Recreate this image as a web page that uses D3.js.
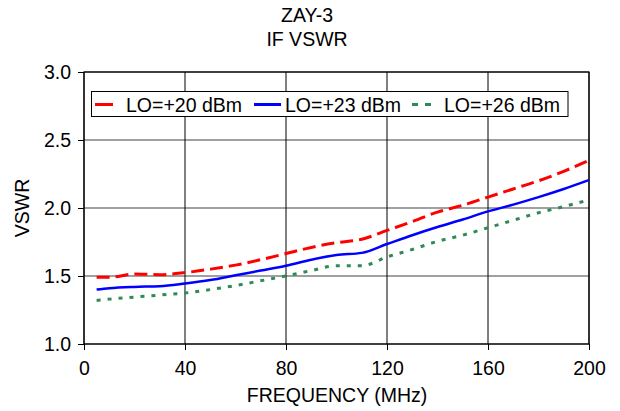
<!DOCTYPE html>
<meta charset="utf-8">
<style>
body { margin: 0; background: #fff; }
text { font-family: Arial, "Liberation Sans", sans-serif; fill: #000; }
</style>
<body>
<script src="https://cdn.jsdelivr.net/npm/d3@7/dist/d3.min.js"></script>
<script>

// data
var freq = [5, 10, 20, 30, 40, 50, 60, 70, 80, 90, 100, 110, 120, 130, 140, 150, 160, 170, 180, 190, 200];
var lo20 = [1.49, 1.49, 1.515, 1.51, 1.525, 1.55, 1.58, 1.62, 1.665, 1.71, 1.745, 1.77, 1.835, 1.90, 1.97, 2.02, 2.08, 2.14, 2.20, 2.27, 2.35];
var lo23 = [1.40, 1.41, 1.42, 1.425, 1.445, 1.47, 1.505, 1.54, 1.575, 1.62, 1.655, 1.67, 1.735, 1.80, 1.86, 1.915, 1.975, 2.025, 2.08, 2.14, 2.205];
var lo26 = [1.32, 1.33, 1.345, 1.36, 1.375, 1.40, 1.43, 1.465, 1.50, 1.54, 1.575, 1.575, 1.64, 1.695, 1.755, 1.80, 1.855, 1.91, 1.965, 2.01, 2.06];
var seriesNames = ["LO=+20 dBm", "LO=+23 dBm", "LO=+26 dBm"];
var xTicks = [0, 40, 80, 120, 160, 200];
var yTicks = [1.0, 1.5, 2.0, 2.5, 3.0];

var fs = "19.5px";

var margin = {top: 72, right: 31, bottom: 67, left: 84},
    width = 620 - margin.left - margin.right,
    height = 411 - margin.top - margin.bottom;

var svg = d3.select("body").append("svg")
    .attr("width", 620)
    .attr("height", 411);

var g = svg.append("g")
    .attr("transform", "translate(" + margin.left + "," + margin.top + ")");

var x = d3.scaleLinear().domain([0, 200]).range([0, width]);
var y = d3.scaleLinear().domain([1, 3]).range([height, 0]);

// grid
g.selectAll(".hgrid").data(yTicks).enter().append("line")
    .attr("x1", 0).attr("x2", width)
    .attr("y1", function(d) { return y(d); })
    .attr("y2", function(d) { return y(d); })
    .attr("stroke", "#808080").attr("stroke-width", 1.3);
g.selectAll(".vgrid").data(xTicks).enter().append("line")
    .attr("y1", 0).attr("y2", height)
    .attr("x1", function(d) { return x(d); })
    .attr("x2", function(d) { return x(d); })
    .attr("stroke", "#000").attr("stroke-width", 1);

g.append("rect")
    .attr("width", width).attr("height", height)
    .attr("fill", "none").attr("stroke", "#000").attr("stroke-width", 1.2);

// axes
var xAxis = g.append("g")
    .attr("transform", "translate(0," + height + ")")
    .call(d3.axisBottom(x).tickValues(xTicks).tickSize(6).tickPadding(11));
var yAxis = g.append("g")
    .call(d3.axisLeft(y).tickValues(yTicks).tickSize(6).tickPadding(7).tickFormat(d3.format(".1f")));
[xAxis, yAxis].forEach(function(a) {
  a.select(".domain").remove();
  a.selectAll("line").attr("stroke", "#000");
  a.selectAll("text").style("font-size", fs).style("font-family", "Arial, 'Liberation Sans', sans-serif");
});

// lines
var series = [
  {vals: lo20, color: "#ff0000", width: 3, dash: "13,6"},
  {vals: lo23, color: "#0000ff", width: 2.5, dash: null},
  {vals: lo26, color: "#2e8b57", width: 3, dash: "4,7"}
];
var line = d3.line()
    .x(function(d, i) { return x(freq[i]); })
    .y(function(d) { return y(d); })
    .curve(d3.curveMonotoneX);

series.forEach(function(s) {
  g.append("path")
      .datum(s.vals)
      .attr("fill", "none")
      .attr("stroke", s.color)
      .attr("stroke-width", s.width)
      .attr("stroke-dasharray", s.dash)
      .attr("d", line);
});

// legend
var legend = svg.append("g");
legend.append("rect")
    .attr("x", 91.5).attr("y", 91.5).attr("width", 476.5).attr("height", 25)
    .attr("fill", "#fff").attr("stroke", "#000").attr("stroke-width", 1);
var legX = [95, 254, 412];
series.forEach(function(s, i) {
  legend.append("line")
      .attr("x1", legX[i]).attr("x2", legX[i] + (i == 0 ? 18 : i == 1 ? 27 : 20))
      .attr("y1", 104.5).attr("y2", 104.5)
      .attr("stroke", s.color).attr("stroke-width", 3)
      .attr("stroke-dasharray", i == 2 ? "6,7" : null);
  legend.append("text")
      .attr("x", [126, 285, 444][i]).attr("y", 111.5)
      .style("font-size", fs)
      .text(seriesNames[i]);
});

// titles
svg.append("text").attr("x", 307).attr("y", 22).attr("text-anchor", "middle")
    .style("font-size", fs).text("ZAY-3");
svg.append("text").attr("x", 307).attr("y", 46).attr("text-anchor", "middle")
    .style("font-size", fs).text("IF VSWR");
svg.append("text").attr("x", 337).attr("y", 402).attr("text-anchor", "middle")
    .style("font-size", fs).text("FREQUENCY (MHz)");
svg.append("text")
    .attr("transform", "translate(29,208) rotate(-90)")
    .attr("text-anchor", "middle")
    .style("font-size", fs).text("VSWR");

</script>
</body>
